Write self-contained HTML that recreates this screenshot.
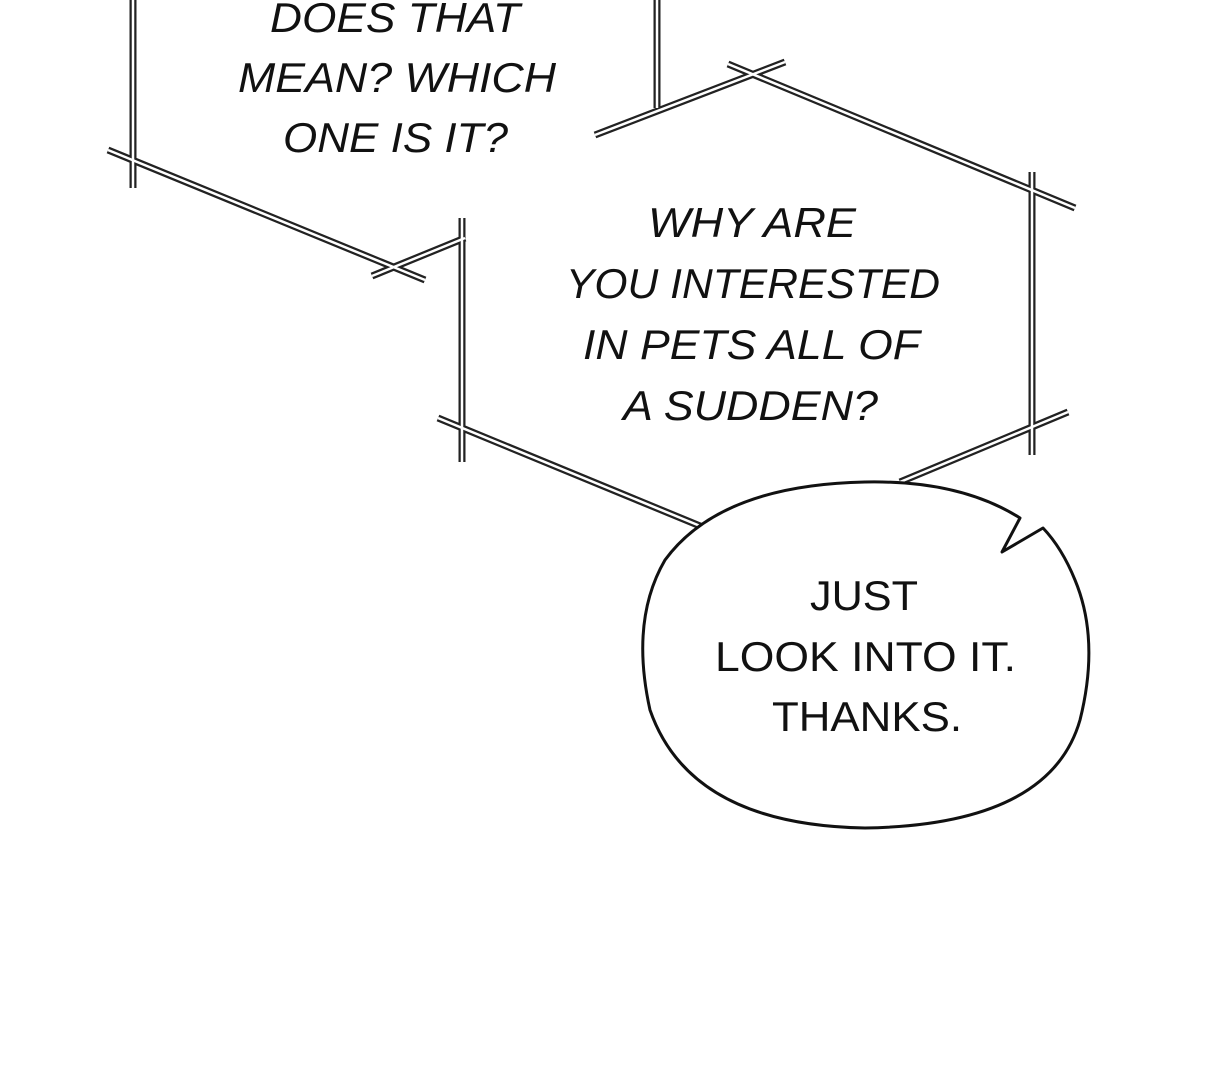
<!DOCTYPE html>
<html><head><meta charset="utf-8"><style>
html,body{margin:0;padding:0;background:#fff;width:1220px;height:1080px;overflow:hidden}
svg{display:block}
text{font-family:"Liberation Sans",sans-serif;font-size:42px;fill:#111}
.i{font-style:italic}
</style></head><body>
<svg width="1220" height="1080" viewBox="0 0 1220 1080">
<g stroke-linecap="butt" fill="none">
<g stroke="#222" stroke-width="7">
<path d="M133 0 L133 188"/>
<path d="M108 150 L425 280"/>
<path d="M372 276 L465 238"/>
<path d="M462 218 L462 462"/>
<path d="M438 418 L705 528"/>
<path d="M657 0 L657 108"/>
<path d="M595 135 L785 62"/>
<path d="M728 64 L1075 208"/>
<path d="M1032 172 L1032 455"/>
<path d="M1068 412 L900 482"/>
</g>
<g stroke="#fff" stroke-width="2.5">
<path d="M133 0 L133 188"/>
<path d="M108 150 L425 280"/>
<path d="M372 276 L465 238"/>
<path d="M462 218 L462 462"/>
<path d="M438 418 L705 528"/>
<path d="M657 0 L657 108"/>
<path d="M595 135 L785 62"/>
<path d="M728 64 L1075 208"/>
<path d="M1032 172 L1032 455"/>
<path d="M1068 412 L900 482"/>
</g>
</g>
<path d="M1002 552 L1020 518 Q960 480 865 482 Q720 485 665 560 Q630 620 650 710 Q690 825 865 828 Q1050 825 1080 720 Q1100 640 1075 580 Q1062 548 1043 528 Z" fill="#fff" stroke="#111" stroke-width="3" stroke-linejoin="round"/>
<g class="i" text-anchor="start">
<text class="i" x="270" y="32" textLength="250" lengthAdjust="spacingAndGlyphs">DOES THAT</text>
<text class="i" x="238" y="92" textLength="318" lengthAdjust="spacingAndGlyphs">MEAN? WHICH</text>
<text class="i" x="283" y="152" textLength="225" lengthAdjust="spacingAndGlyphs">ONE IS IT?</text>
<text class="i" x="648" y="237" textLength="208" lengthAdjust="spacingAndGlyphs">WHY ARE</text>
<text class="i" x="566" y="298" textLength="374" lengthAdjust="spacingAndGlyphs">YOU INTERESTED</text>
<text class="i" x="583" y="359" textLength="337" lengthAdjust="spacingAndGlyphs">IN PETS ALL OF</text>
<text class="i" x="623" y="420" textLength="255" lengthAdjust="spacingAndGlyphs">A SUDDEN?</text>
</g>
<text x="810" y="610" textLength="108" lengthAdjust="spacingAndGlyphs">JUST</text>
<text x="715" y="671" textLength="301" lengthAdjust="spacingAndGlyphs">LOOK INTO IT.</text>
<text x="772" y="731" textLength="190" lengthAdjust="spacingAndGlyphs">THANKS.</text>
</svg>
</body></html>
